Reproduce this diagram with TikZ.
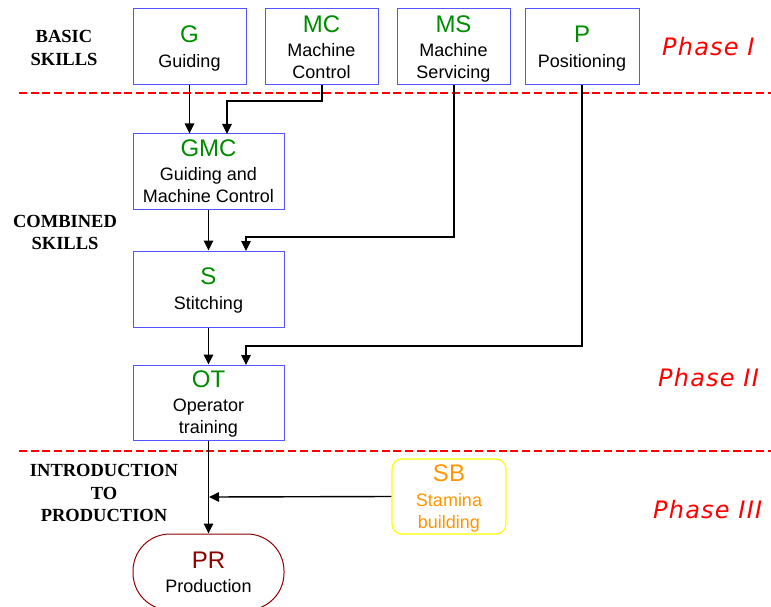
\documentclass[tikz,border=0pt]{standalone}
\usepackage{fontspec}
\setmainfont{Liberation Sans}
\newfontfamily\serifbold{Liberation Serif}
\newfontfamily\phasefont[LetterSpace=5]{DejaVu Sans}
\usetikzlibrary{arrows.meta}
\definecolor{boxblue}{RGB}{85,85,255}
\definecolor{abgreen}{RGB}{0,140,0}
\definecolor{prred}{RGB}{140,0,0}
\definecolor{sborange}{RGB}{255,150,0}
\definecolor{sbyellow}{RGB}{255,255,0}
\begin{document}
\begin{tikzpicture}[x=1pt,y=-1pt,
  skillbox/.style={draw=boxblue,line width=1pt,minimum width=113pt,minimum height=76pt,inner sep=0pt,align=center,text depth=0pt,font=\fontsize{18}{22}\selectfont},
  widebox/.style={skillbox,minimum width=151pt,minimum height=75pt},
  conn/.style={line width=1.4pt,-{Triangle[length=10pt,width=9.5pt]}},
  phaseline/.style={draw=red,line width=2.2pt,dash pattern=on 8pt off 3.7pt},
  phaselabel/.style={text=red,font=\phasefont\itshape\fontsize{24}{28}\selectfont,inner sep=0pt},
  levellabel/.style={font=\serifbold\bfseries\fontsize{18.5}{22.5}\selectfont,align=center,inner sep=0pt}
]
\useasboundingbox (0,0) rectangle (771,607);

% phase separators
\coordinate (l1a) at (19,93); \coordinate (l1b) at (771,93);
\coordinate (l2a) at (19,451); \coordinate (l2b) at (771,451);
\draw[phaseline] (l1a) -- (l1b);
\draw[phaseline] (l2a) -- (l2b);

% basic skills
\node[skillbox] (G) at (189.5,47) {{\fontsize{24}{24}\selectfont\color{abgreen}G}\\[3pt]Guiding};
\node[skillbox] (MC) at (321.5,47) {{\fontsize{24}{24}\selectfont\color{abgreen}MC}\\[2pt]Machine\\Control};
\node[skillbox] (MS) at (453.5,47) {{\fontsize{24}{24}\selectfont\color{abgreen}MS}\\[2pt]Machine\\Servicing};
\node[skillbox,minimum width=114pt] (P) at (582,47) {{\fontsize{24}{24}\selectfont\color{abgreen}P}\\[3pt]Positioning};

% combined
\node[widebox] (GMC) at (208.5,171.5) {{\fontsize{24}{24}\selectfont\color{abgreen}GMC}\\[2pt]Guiding and\\Machine Control};
\node[widebox,minimum height=76pt] (S) at (208.5,289) {{\fontsize{24}{24}\selectfont\color{abgreen}S}\\[3pt]Stitching};
\node[widebox] (OT) at (208.5,402.5) {{\fontsize{24}{24}\selectfont\color{abgreen}OT}\\[2pt]Operator\\training};

% production
\node[draw=prred,line width=1pt,rounded corners=37pt,minimum width=151pt,minimum height=76pt,align=center,inner sep=0pt,text depth=0pt,font=\fontsize{18}{22}\selectfont] (PR) at (208.5,572) {{\fontsize{24}{24}\selectfont\color{prred}PR}\\[2pt]Production};
\node[draw=sbyellow,line width=1.2pt,rounded corners=10pt,minimum width=114pt,minimum height=75pt,align=center,inner sep=0pt,text depth=0pt,text=sborange,font=\fontsize{18}{22}\selectfont] (SB) at (449,496.5) {{\fontsize{24}{24}\selectfont SB}\\[2.5pt]Stamina\\building};

% level labels
\node[levellabel] (lbasic) at (64,48) {BASIC\\SKILLS};
\node[levellabel] (lcomb) at (65,232.5) {COMBINED\\SKILLS};
\node[levellabel] (lintro) at (104,493) {INTRODUCTION\\TO\\PRODUCTION};

% phase labels
\node[phaselabel,anchor=west] (ph1) at (662,47) {Phase I};
\node[phaselabel,anchor=west] (ph2) at (658,378) {Phase II};
\node[phaselabel,anchor=west] (ph3) at (653,510) {Phase III};

% connectors
\coordinate (mcbend) at (322,101);
\coordinate (gmcin) at (227,134);
\coordinate (msbend) at (454,237);
\coordinate (sin) at (246,251);
\coordinate (pbend) at (582,346);
\coordinate (otin) at (246,365);
\coordinate (sbjoin) at (209,497);
\draw[conn] (G.south) -- (G.south |- GMC.north);
\draw[conn] (MC.south -| mcbend) -- (mcbend) -| (gmcin);
\draw[conn] (MS.south -| msbend) -- (msbend) -| (sin);
\draw[conn] (P.south) -- (pbend) -| (otin);
\draw[conn] (GMC.south) -- (S.north);
\draw[conn] (S.south) -- (OT.north);
\draw[conn] (OT.south) -- (PR.north);
\draw[conn] (SB.west) -- (sbjoin);
\end{tikzpicture}
\end{document}
